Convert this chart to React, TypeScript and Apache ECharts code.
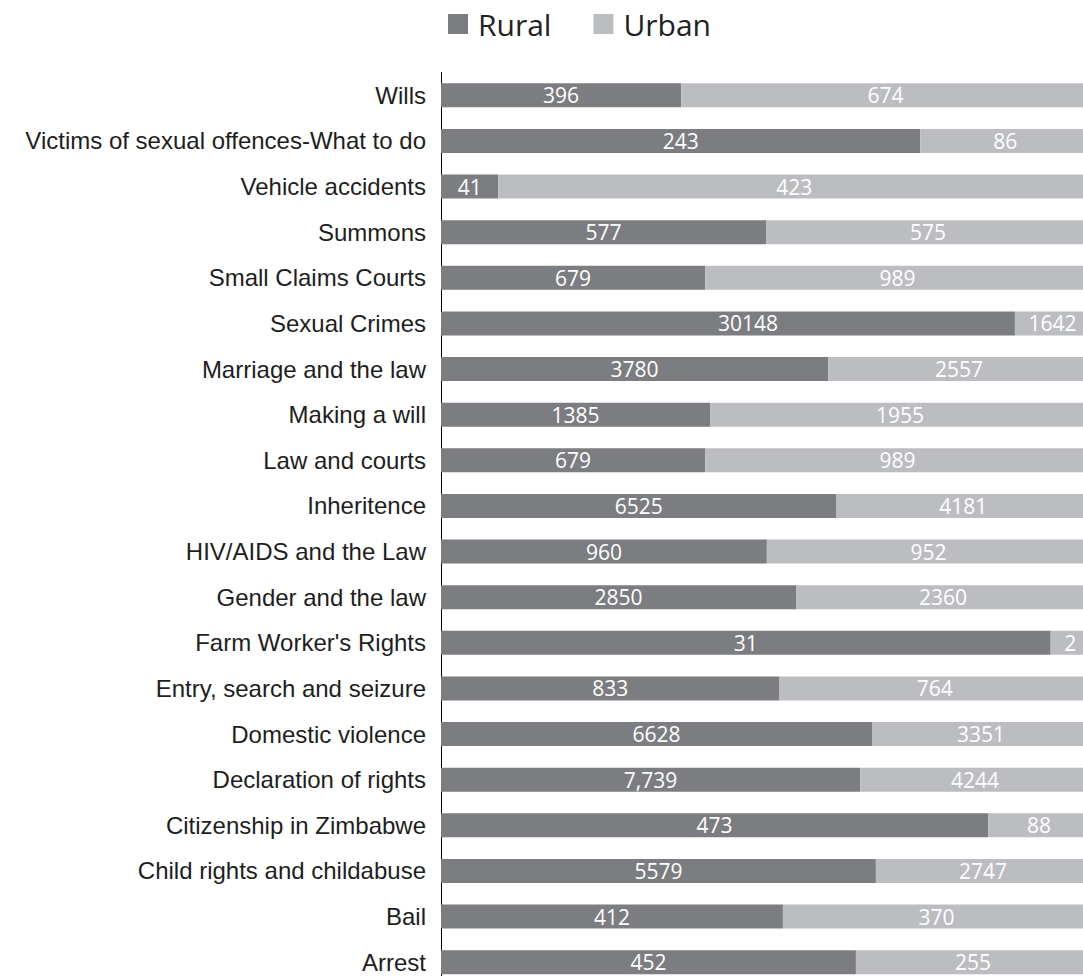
import React, { useEffect, useRef } from "react";
import * as echarts from "echarts";

const categories = [
  "Wills",
  "Victims of sexual offences-What to do",
  "Vehicle accidents",
  "Summons",
  "Small Claims Courts",
  "Sexual Crimes",
  "Marriage and the law",
  "Making a will",
  "Law and courts",
  "Inheritence",
  "HIV/AIDS and the Law",
  "Gender and the law",
  "Farm Worker's Rights",
  "Entry, search and seizure",
  "Domestic violence",
  "Declaration of rights",
  "Citizenship in Zimbabwe",
  "Child rights and childabuse",
  "Bail",
  "Arrest",
];

// Values as labelled in the chart
const ruralValues = [396, 243, 41, 577, 679, 30148, 3780, 1385, 679, 6525, 960, 2850, 31, 833, 6628, 7739, 473, 5579, 412, 452];
const urbanValues = [674, 86, 423, 575, 989, 1642, 2557, 1955, 989, 4181, 952, 2360, 2, 764, 3351, 4244, 88, 2747, 370, 255];
const ruralLabels = ["396", "243", "41", "577", "679", "30148", "3780", "1385", "679", "6525", "960", "2850", "31", "833", "6628", "7,739", "473", "5579", "412", "452"];
const urbanLabels = urbanValues.map((v) => String(v));
// Rural amounts as drawn by the bar lengths (the Sexual Crimes bar is drawn at ~88% share in the picture)
const ruralBarValues = [396, 243, 41, 577, 679, 12550, 3780, 1385, 679, 6525, 960, 2850, 31, 833, 6628, 7739, 473, 5579, 412, 452];

const RURAL_COLOR = "#7c7d81";
const URBAN_COLOR = "#bcbdc1";

export default function App() {
  const ref = useRef<HTMLDivElement>(null);

  useEffect(() => {
    document.body.style.margin = "0";
    if (!ref.current) return;
    const chart = echarts.init(ref.current, undefined, { renderer: "svg" });

    const ruralShare = ruralBarValues.map((r, i) => (r / (r + urbanValues[i])) * 100);
    const urbanShare = ruralBarValues.map((r, i) => (urbanValues[i] / (r + urbanValues[i])) * 100);

    const labelStyle = {
      show: true,
      position: "inside" as const,
      color: "#ffffff",
      fontFamily: "Open Sans",
      fontSize: 21,
      lineHeight: 22,
    };

    // the label of the Sexual Crimes rural value sits right of its bar's centre in the picture
    const ruralData = ruralShare.map((v, i) =>
      ruralValues[i] !== ruralBarValues[i]
        ? { value: v, label: { offset: [20, 0] } }
        : v
    );

    chart.setOption({
      animation: false,
      legend: {
        data: ["Rural", "Urban"],
        left: 443,
        top: 4,
        icon: "rect",
        itemWidth: 20,
        itemHeight: 20,
        itemGap: 42,
        textStyle: {
          fontFamily: "Open Sans",
          fontSize: 30,
          color: "#222222",
          padding: [0, 0, 0, 5],
        },
      },
      grid: {
        left: 441,
        top: 72.5,
        right: -7,
        bottom: -9,
        containLabel: false,
        outerBoundsMode: "none",
      },
      xAxis: {
        type: "value",
        min: 0,
        max: 100,
        show: false,
      },
      yAxis: {
        type: "category",
        inverse: true,
        data: categories,
        axisLine: { show: true, lineStyle: { color: "#000000", width: 1 } },
        axisTick: { show: false },
        axisLabel: {
          fontFamily: "Liberation Sans, Arial, sans-serif",
          fontSize: 24,
          lineHeight: 24,
          color: "#1e1e1e",
          margin: 15,
        },
      },
      series: [
        {
          name: "Rural",
          type: "bar",
          stack: "total",
          barWidth: 24,
          itemStyle: { color: RURAL_COLOR },
          label: { ...labelStyle, formatter: (p: any) => ruralLabels[p.dataIndex] },
          data: ruralData,
        },
        {
          name: "Urban",
          type: "bar",
          stack: "total",
          barWidth: 24,
          itemStyle: { color: URBAN_COLOR },
          label: { ...labelStyle, formatter: (p: any) => urbanLabels[p.dataIndex] },
          data: urbanShare,
        },
      ],
    });

    return () => chart.dispose();
  }, []);

  return <div ref={ref} style={{ width: 1083, height: 976 }} />;
}
